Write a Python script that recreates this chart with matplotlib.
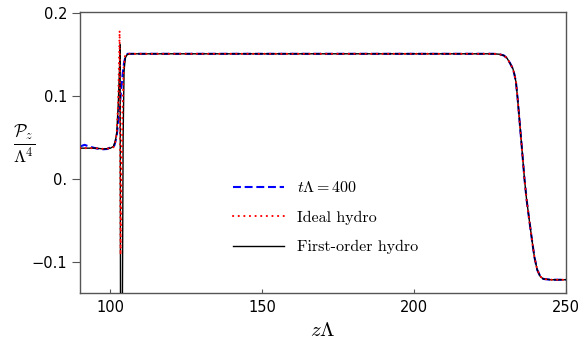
import matplotlib
matplotlib.use("Agg")
import matplotlib.pyplot as plt

plt.rcParams['mathtext.fontset'] = 'cm'

# ---- data ----
z_fo = [90, 95, 98, 100, 101, 101.6, 102.1, 102.6, 103.0, 103.2, 103.4, 103.9, 104.2,
        104.5, 104.9, 105.5, 106.5, 110, 150, 200, 226, 228, 229.5, 230.5, 231.5,
        232.5, 233.0, 233.5, 234.0, 234.5, 235.5, 236.3, 237.0, 238.0, 239.0, 239.6,
        240.5, 241.5, 242.5, 245, 250]
p_fo = [0.037, 0.037, 0.036, 0.037, 0.039, 0.045, 0.055, 0.091, 0.132, 0.162, -0.30,
        -0.20, 0.05, 0.13, 0.146, 0.150, 0.151, 0.151, 0.151, 0.151, 0.151, 0.1505,
        0.149, 0.146, 0.140, 0.133, 0.126, 0.117, 0.099, 0.078, 0.035, 0.0, -0.025,
        -0.053, -0.080, -0.095, -0.110, -0.118, -0.121, -0.122, -0.122]

z_ideal = [90, 95, 98, 100, 101, 101.6, 102.1, 102.6, 102.9, 103.05, 103.2, 103.35,
           103.6, 104.0, 104.4, 104.8, 105.5, 110, 150, 200, 226, 228, 229.5, 230.5,
           231.5, 232.5, 233.0, 233.5, 234.0, 234.5, 235.5, 236.3, 237.0, 238.0,
           239.0, 239.6, 240.5, 241.5, 242.5, 245, 250]
p_ideal = [0.037, 0.037, 0.036, 0.037, 0.038, 0.044, 0.055, 0.095, 0.150, 0.179, 0.05,
           -0.092, -0.02, 0.08, 0.135, 0.148, 0.151, 0.151, 0.151, 0.151, 0.151, 0.1505,
           0.149, 0.146, 0.140, 0.133, 0.126, 0.117, 0.099, 0.078, 0.035, 0.0, -0.025,
           -0.053, -0.080, -0.095, -0.110, -0.118, -0.121, -0.122, -0.122]

z_400 = [90, 91.5, 93, 95, 97, 99, 100, 101.3, 102, 102.5, 103, 103.5, 104, 104.5,
         105, 105.7, 110, 150, 200, 226, 228, 229.5, 230.5, 231.5, 232.5, 233.0,
         233.5, 234.0, 234.5, 235.5, 236.3, 237.0, 238.0, 239.0, 239.6, 240.5, 241.5,
         242.5, 245, 250]
p_400 = [0.039, 0.041, 0.039, 0.037, 0.0355, 0.036, 0.038, 0.040, 0.050, 0.065, 0.085,
         0.105, 0.125, 0.140, 0.148, 0.151, 0.151, 0.151, 0.151, 0.151, 0.1505, 0.149,
         0.146, 0.140, 0.133, 0.126, 0.117, 0.099, 0.078, 0.035, 0.0, -0.025, -0.053,
         -0.080, -0.095, -0.110, -0.118, -0.121, -0.122, -0.122]

x_ticks = [100, 150, 200, 250]
y_ticks = [-0.1, 0.0, 0.1, 0.2]
y_tick_labels = ['\u22120.1', '0.', '0.1', '0.2']

labels = [r'$t\Lambda = 400$', 'Ideal hydro', 'First-order hydro']

# ---- figure ----
fig = plt.figure(figsize=(5.86, 3.46), dpi=100)
ax = fig.add_axes([0.1365, 0.1532, 0.8295, 0.8121])

l1, = ax.plot(z_400, p_400, color='#0000ff', lw=1.5, ls=(0, (3.8, 1.8)), zorder=2)
l3, = ax.plot(z_fo, p_fo, color='black', lw=1.0, zorder=3)
l2, = ax.plot(z_ideal, p_ideal, color='#ff0000', lw=1.5, ls=(0, (0.1, 2.6)),
              dash_capstyle='round', zorder=4)

ax.set_xlim(90, 250)
ax.set_ylim(-0.138, 0.2015)

ax.set_xticks(x_ticks)
ax.set_xticklabels([str(t) for t in x_ticks])
ax.set_yticks(y_ticks)
ax.set_yticklabels(y_tick_labels)

spine_col = '#555555'
for s in ax.spines.values():
    s.set_color(spine_col)
    s.set_linewidth(1.0)
ax.tick_params(axis='y', direction='out', length=6, width=0.8, color=spine_col,
               labelsize=10.5, pad=3, right=False)
ax.tick_params(axis='x', direction='in', length=3, width=0.8, color=spine_col,
               labelsize=10.5, pad=5, top=False)

ax.set_xlabel(r'$z\Lambda$', fontsize=15, labelpad=4)
ax.set_ylabel(r'$\frac{\mathcal{P}_z}{\Lambda^4}$', fontsize=18, rotation=0,
              va='center', ha='center')
ax.yaxis.set_label_coords(-0.114, 0.53)

leg = ax.legend([l1, l2, l3], labels, loc='upper left', bbox_to_anchor=(0.286, 0.452),
                frameon=False, handlelength=3.2, labelspacing=0.95,
                prop={'family': 'cmr10', 'size': 11.5})

fig.savefig('out.png', dpi=100)
